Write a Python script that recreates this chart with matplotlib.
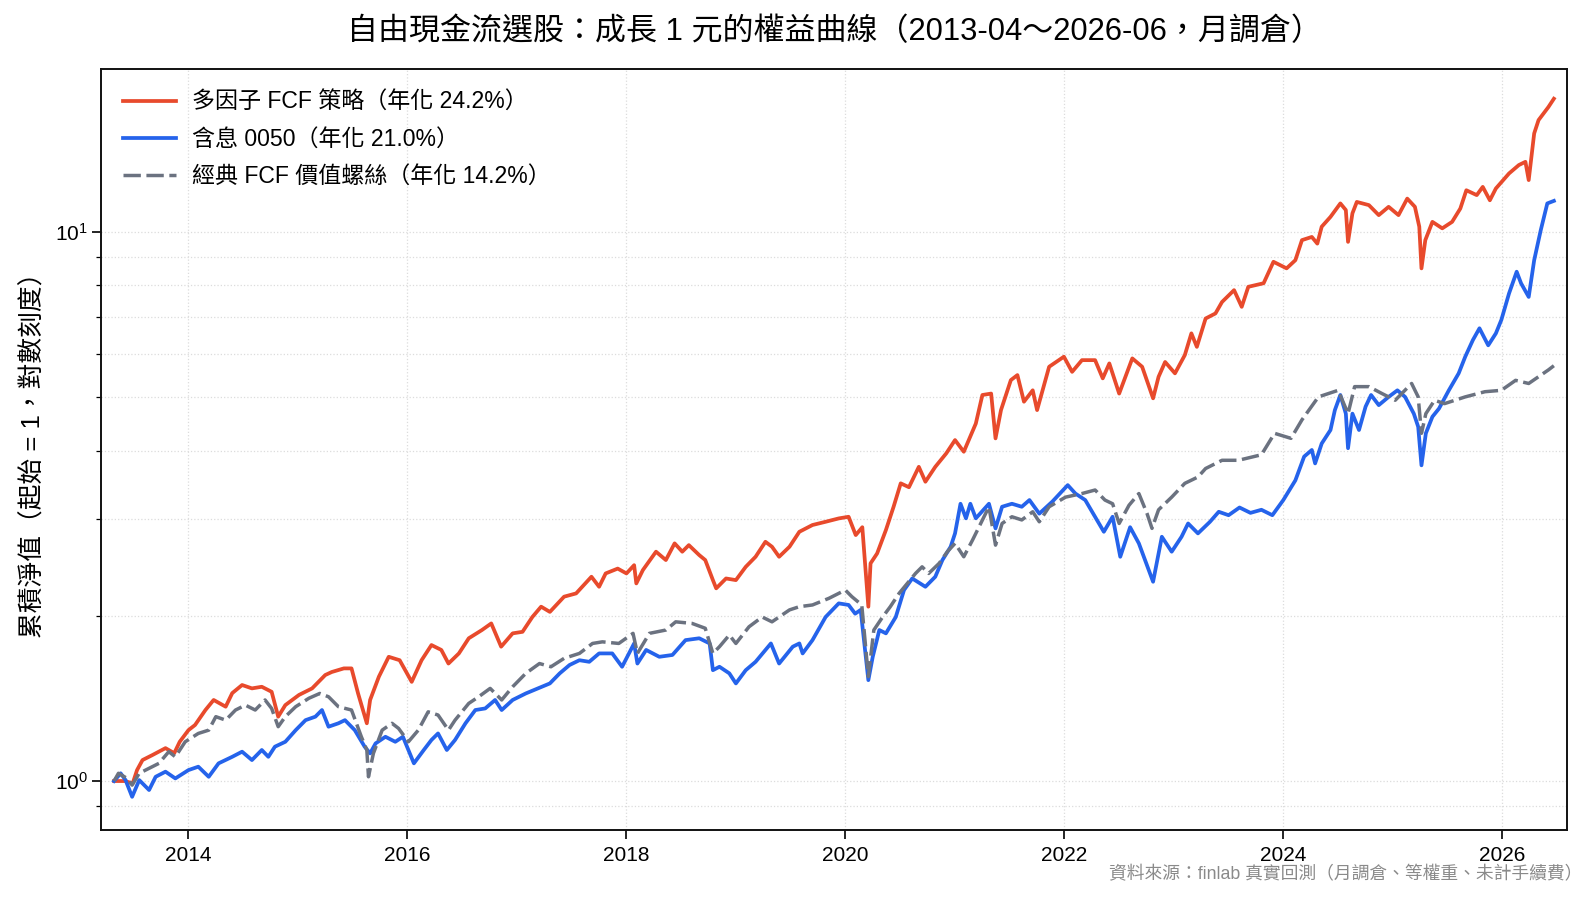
import matplotlib
matplotlib.use("Agg")
import matplotlib.pyplot as plt
import matplotlib.dates as mdates
import pandas as pd

plt.rcParams['font.family'] = ['Liberation Sans', 'Noto Sans CJK TC', 'DejaVu Sans']
plt.rcParams['mathtext.fontset'] = 'custom'
plt.rcParams['mathtext.rm'] = 'Liberation Sans'
plt.rcParams['mathtext.it'] = 'Liberation Sans:italic'
plt.rcParams['mathtext.bf'] = 'Liberation Sans:bold'

# ---------------- data (decimal year, cumulative NAV) ----------------
fcf_years = [2013.32, 2013.42, 2013.49, 2013.53, 2013.58, 2013.67, 2013.79, 2013.87, 2013.92, 2014.00,
             2014.06, 2014.155, 2014.23, 2014.34, 2014.40, 2014.49, 2014.58, 2014.67, 2014.76, 2014.82,
             2014.885, 2015.01, 2015.13, 2015.25, 2015.31, 2015.42, 2015.49, 2015.55, 2015.63, 2015.66,
             2015.74, 2015.83, 2015.93, 2016.04, 2016.13, 2016.22, 2016.31, 2016.375, 2016.47, 2016.56,
             2016.68, 2016.765, 2016.855, 2016.96, 2017.05, 2017.14, 2017.22, 2017.30, 2017.43, 2017.54,
             2017.68, 2017.75, 2017.81, 2017.92, 2018.00, 2018.07, 2018.09, 2018.15, 2018.27, 2018.36,
             2018.44, 2018.51, 2018.57, 2018.665, 2018.72, 2018.79, 2018.82, 2018.91, 2019.00, 2019.09,
             2019.18, 2019.27, 2019.33, 2019.395, 2019.49, 2019.58, 2019.70, 2019.82, 2019.94, 2020.03,
             2020.095, 2020.155, 2020.21, 2020.23, 2020.29, 2020.37, 2020.44, 2020.505, 2020.58, 2020.67,
             2020.73, 2020.82, 2020.92, 2021.00, 2021.08, 2021.19, 2021.25, 2021.33, 2021.37, 2021.42,
             2021.51, 2021.57, 2021.63, 2021.71, 2021.75, 2021.86, 2021.995, 2022.07, 2022.16, 2022.28,
             2022.35, 2022.41, 2022.50, 2022.62, 2022.71, 2022.81, 2022.86, 2022.92, 2023.01, 2023.10,
             2023.16, 2023.21, 2023.29, 2023.38, 2023.44, 2023.55, 2023.62, 2023.68, 2023.82, 2023.91,
             2024.03, 2024.11, 2024.17, 2024.26, 2024.31, 2024.35, 2024.43, 2024.52, 2024.57, 2024.59,
             2024.63, 2024.67, 2024.78, 2024.87, 2024.96, 2025.05, 2025.13, 2025.20, 2025.24, 2025.26,
             2025.295, 2025.36, 2025.45, 2025.54, 2025.615, 2025.67, 2025.765, 2025.82, 2025.885, 2025.94,
             2026.06, 2026.15, 2026.21, 2026.24, 2026.29, 2026.33, 2026.42, 2026.47]
fcf_values = [1.00, 1.00, 0.99, 1.047, 1.092, 1.115, 1.148, 1.124, 1.179, 1.238,
              1.265, 1.347, 1.405, 1.366, 1.446, 1.496, 1.475, 1.485, 1.454, 1.31,
              1.375, 1.435, 1.475, 1.56, 1.58, 1.604, 1.604, 1.444, 1.274, 1.405,
              1.549, 1.684, 1.66, 1.516, 1.66, 1.769, 1.733, 1.637, 1.708, 1.82,
              1.884, 1.937, 1.757, 1.858, 1.87, 1.99, 2.078, 2.033, 2.167, 2.197,
              2.356, 2.259, 2.389, 2.438, 2.389, 2.473, 2.291, 2.423, 2.617, 2.527,
              2.71, 2.617, 2.69, 2.58, 2.527, 2.323, 2.244, 2.339, 2.323, 2.456,
              2.562, 2.728, 2.672, 2.562, 2.672, 2.845, 2.927, 2.967, 3.009, 3.03,
              2.806, 2.90, 2.078, 2.492, 2.598, 2.866, 3.16, 3.486, 3.43, 3.736,
              3.51, 3.736, 3.953, 4.18, 3.98, 4.48, 5.05, 5.08, 4.21, 4.74,
              5.375, 5.49, 4.91, 5.15, 4.74, 5.685, 5.93, 5.565, 5.845, 5.845,
              5.415, 5.765, 5.08, 5.888, 5.685, 4.98, 5.45, 5.80, 5.53, 5.97,
              6.54, 6.18, 6.96, 7.11, 7.46, 7.84, 7.31, 7.95, 8.07, 8.83,
              8.59, 8.89, 9.67, 9.80, 9.53, 10.23, 10.66, 11.28, 10.97, 9.60,
              10.82, 11.35, 11.2, 10.74, 11.12, 10.74, 11.51, 11.12, 10.23, 8.59,
              9.67, 10.44, 10.16, 10.44, 11.04, 11.92, 11.68, 12.09, 11.43, 12.01,
              12.79, 13.25, 13.43, 12.44, 15.13, 16.0, 16.9, 17.5]

etf_years = [2013.32, 2013.38, 2013.425, 2013.485, 2013.55, 2013.64, 2013.70, 2013.79, 2013.88, 2014.00,
             2014.09, 2014.185, 2014.275, 2014.40, 2014.49, 2014.58, 2014.67, 2014.73, 2014.79, 2014.885,
             2014.98, 2015.07, 2015.16, 2015.22, 2015.28, 2015.37, 2015.43, 2015.52, 2015.61, 2015.66,
             2015.71, 2015.80, 2015.89, 2015.96, 2016.06, 2016.15, 2016.22, 2016.28, 2016.36, 2016.435,
             2016.53, 2016.62, 2016.71, 2016.80, 2016.86, 2016.96, 2017.08, 2017.19, 2017.30, 2017.39,
             2017.48, 2017.57, 2017.66, 2017.75, 2017.87, 2017.96, 2018.07, 2018.10, 2018.18, 2018.30,
             2018.42, 2018.54, 2018.665, 2018.76, 2018.79, 2018.85, 2018.94, 2019.00, 2019.09, 2019.18,
             2019.32, 2019.395, 2019.52, 2019.58, 2019.61, 2019.70, 2019.82, 2019.94, 2020.03, 2020.09,
             2020.14, 2020.21, 2020.25, 2020.31, 2020.37, 2020.46, 2020.535, 2020.61, 2020.73, 2020.82,
             2020.885, 2020.96, 2021.00, 2021.05, 2021.10, 2021.14, 2021.19, 2021.31, 2021.37, 2021.43,
             2021.52, 2021.61, 2021.68, 2021.77, 2021.89, 2022.03, 2022.10, 2022.19, 2022.28, 2022.36,
             2022.44, 2022.51, 2022.60, 2022.68, 2022.77, 2022.81, 2022.89, 2022.98, 2023.07, 2023.13,
             2023.22, 2023.33, 2023.41, 2023.50, 2023.60, 2023.70, 2023.80, 2023.90, 2024.00, 2024.11,
             2024.19, 2024.26, 2024.29, 2024.35, 2024.43, 2024.47, 2024.52, 2024.57, 2024.59, 2024.63,
             2024.69, 2024.75, 2024.80, 2024.87, 2024.96, 2025.04, 2025.11, 2025.19, 2025.23, 2025.26,
             2025.30, 2025.36, 2025.42, 2025.51, 2025.60, 2025.66, 2025.73, 2025.79, 2025.87, 2025.94,
             2025.99, 2026.06, 2026.13, 2026.17, 2026.24, 2026.29, 2026.35, 2026.41, 2026.47]
etf_values = [1.00, 1.033, 1.004, 0.936, 1.004, 0.963, 1.018, 1.04, 1.011, 1.047,
              1.062, 1.018, 1.077, 1.107, 1.131, 1.092, 1.139, 1.107, 1.155, 1.179,
              1.238, 1.291, 1.31, 1.347, 1.256, 1.274, 1.291, 1.238, 1.155, 1.123,
              1.171, 1.204, 1.179, 1.204, 1.077, 1.139, 1.188, 1.221, 1.139, 1.188,
              1.274, 1.347, 1.356, 1.405, 1.347, 1.405, 1.444, 1.475, 1.506, 1.571,
              1.627, 1.66, 1.649, 1.708, 1.708, 1.615, 1.781, 1.637, 1.733, 1.684,
              1.697, 1.806, 1.82, 1.781, 1.592, 1.615, 1.571, 1.506, 1.592, 1.649,
              1.781, 1.637, 1.757, 1.781, 1.708, 1.806, 1.99, 2.107, 2.093, 2.018,
              2.05, 1.527, 1.684, 1.884, 1.858, 1.99, 2.228, 2.339, 2.259, 2.356,
              2.527, 2.672, 2.826, 3.20, 3.01, 3.20, 3.01, 3.20, 2.886, 3.16,
              3.20, 3.16, 3.25, 3.07, 3.23, 3.46, 3.34, 3.25, 3.03, 2.845,
              3.03, 2.562, 2.90, 2.71, 2.423, 2.307, 2.786, 2.617, 2.786, 2.946,
              2.826, 2.967, 3.094, 3.05, 3.15, 3.08, 3.12, 3.05, 3.25, 3.53,
              3.90, 4.01, 3.79, 4.12, 4.36, 4.74, 5.05, 4.67, 4.04, 4.67,
              4.36, 4.81, 5.05, 4.84, 5.01, 5.15, 5.01, 4.67, 4.42, 3.76,
              4.30, 4.61, 4.77, 5.15, 5.53, 5.93, 6.36, 6.68, 6.22, 6.54,
              6.92, 7.73, 8.47, 8.07, 7.62, 8.89, 10.08, 11.28, 11.4]

classic_years = [2013.32, 2013.36, 2013.44, 2013.485, 2013.55, 2013.64, 2013.73, 2013.82, 2013.88, 2013.97,
                 2014.09, 2014.185, 2014.25, 2014.34, 2014.43, 2014.52, 2014.61, 2014.70, 2014.76, 2014.82,
                 2014.885, 2014.98, 2015.10, 2015.20, 2015.28, 2015.37, 2015.49, 2015.58, 2015.63, 2015.645,
                 2015.69, 2015.77, 2015.86, 2015.92, 2016.01, 2016.10, 2016.19, 2016.28, 2016.375, 2016.435,
                 2016.56, 2016.65, 2016.755, 2016.86, 2016.96, 2017.08, 2017.205, 2017.31, 2017.43, 2017.57,
                 2017.69, 2017.78, 2017.93, 2018.06, 2018.10, 2018.21, 2018.36, 2018.45, 2018.60, 2018.72,
                 2018.79, 2018.85, 2018.94, 2019.00, 2019.12, 2019.24, 2019.33, 2019.49, 2019.58, 2019.70,
                 2019.85, 2020.00, 2020.06, 2020.15, 2020.21, 2020.26, 2020.34, 2020.41, 2020.49, 2020.565,
                 2020.64, 2020.70, 2020.76, 2020.855, 2020.93, 2021.00, 2021.08, 2021.16, 2021.25, 2021.31,
                 2021.37, 2021.43, 2021.52, 2021.61, 2021.71, 2021.77, 2021.86, 2022.01, 2022.16, 2022.28,
                 2022.37, 2022.44, 2022.50, 2022.59, 2022.68, 2022.755, 2022.80, 2022.86, 2022.98, 2023.10,
                 2023.22, 2023.29, 2023.44, 2023.59, 2023.80, 2023.92, 2024.07, 2024.17, 2024.32, 2024.50,
                 2024.59, 2024.65, 2024.78, 2024.90, 2025.02, 2025.17, 2025.23, 2025.26, 2025.30, 2025.38,
                 2025.47, 2025.66, 2025.84, 2025.99, 2026.12, 2026.24, 2026.42, 2026.47]
classic_values = [1.00, 1.033, 1.011, 0.983, 1.033, 1.055, 1.077, 1.131, 1.107, 1.179,
                  1.221, 1.238, 1.31, 1.291, 1.347, 1.375, 1.347, 1.405, 1.356, 1.256,
                  1.31, 1.366, 1.415, 1.444, 1.424, 1.366, 1.347, 1.204, 1.139, 1.018,
                  1.123, 1.238, 1.274, 1.247, 1.179, 1.238, 1.337, 1.319, 1.238, 1.291,
                  1.385, 1.424, 1.475, 1.405, 1.485, 1.571, 1.637, 1.615, 1.673, 1.708,
                  1.781, 1.793, 1.781, 1.858, 1.708, 1.858, 1.884, 1.95, 1.937, 1.898,
                  1.708, 1.757, 1.845, 1.781, 1.91, 1.99, 1.95, 2.05, 2.078, 2.093,
                  2.152, 2.228, 2.167, 2.093, 1.55, 1.884, 1.99, 2.078, 2.197, 2.291,
                  2.389, 2.456, 2.389, 2.492, 2.617, 2.71, 2.562, 2.748, 2.99, 3.16,
                  2.69, 2.946, 3.03, 2.99, 3.094, 2.967, 3.16, 3.29, 3.34, 3.39,
                  3.25, 3.20, 2.946, 3.18, 3.34, 3.07, 2.886, 3.12, 3.29, 3.486,
                  3.58, 3.71, 3.84, 3.84, 3.93, 4.30, 4.21, 4.55, 5.01, 5.15,
                  4.67, 5.23, 5.23, 5.08, 4.94, 5.30, 5.01, 4.30, 4.67, 4.94,
                  4.87, 5.01, 5.12, 5.15, 5.37, 5.30, 5.61, 5.71]

series_labels = ["多因子 FCF 策略（年化 24.2%）",
                 "含息 0050（年化 21.0%）",
                 "經典 FCF 價值螺絲（年化 14.2%）"]
title_text = "自由現金流選股：成長 1 元的權益曲線（2013-04～2026-06，月調倉）"
ylabel_text = "累積淨值（起始 = 1，對數刻度）"
source_text = "資料來源：finlab 真實回測（月調倉、等權重、未計手續費）"


def to_dt(y):
    yr = int(y)
    start = pd.Timestamp(yr, 1, 1)
    end = pd.Timestamp(yr + 1, 1, 1)
    return start + (end - start) * (y - yr)


fig = plt.figure(figsize=(15.92, 8.99), dpi=100)
ax_left, ax_bottom, ax_w, ax_h = 0.0634, 0.0773, 0.9209, 0.8459
ax = fig.add_axes([ax_left, ax_bottom, ax_w, ax_h])

ax.plot([to_dt(y) for y in fcf_years], fcf_values, color='#E84A2C', lw=2.7,
        label=series_labels[0], zorder=3)
ax.plot([to_dt(y) for y in etf_years], etf_values, color='#2563EB', lw=2.7,
        label=series_labels[1], zorder=3)
ax.plot([to_dt(y) for y in classic_years], classic_values, color='#6B7280', lw=2.5,
        dashes=(5.0, 1.6), label=series_labels[2], zorder=3)

ax.set_yscale('log')
ax.set_ylim(0.816, 19.82)
ax.set_xlim(to_dt(2013.20), to_dt(2026.59))
ax.xaxis.set_major_locator(mdates.YearLocator(2))
ax.xaxis.set_major_formatter(mdates.DateFormatter('%Y'))

ax.grid(True, which='both', axis='y', linestyle=':', color='#dcdcdc', linewidth=0.9)
ax.grid(True, which='major', axis='x', linestyle=':', color='#dcdcdc', linewidth=0.9)
ax.set_axisbelow(True)

ax.tick_params(axis='both', which='major', labelsize=15, length=6.2, width=1.2)
ax.tick_params(axis='x', which='major', pad=5.5)
ax.tick_params(axis='y', which='major', pad=3.0)
ax.tick_params(axis='y', which='minor', length=3.6, width=0.9)
for s in ax.spines.values():
    s.set_linewidth(1.4)
    s.set_color('#111111')

ax.set_ylabel(ylabel_text, fontsize=18.5, labelpad=7)
fig.text(ax_left + ax_w / 2, 0.964, title_text, ha='center', va='center', fontsize=22.3)

leg = ax.legend(loc='upper left', frameon=False, fontsize=16.6, handlelength=2.3,
                handletextpad=0.72, labelspacing=0.6, borderaxespad=0.55, borderpad=0.4)

fig.text(0.994, 0.027, source_text, ha='right', va='center', fontsize=12.8, color='#8a8a8a')

fig.savefig('out.png', dpi=100)
